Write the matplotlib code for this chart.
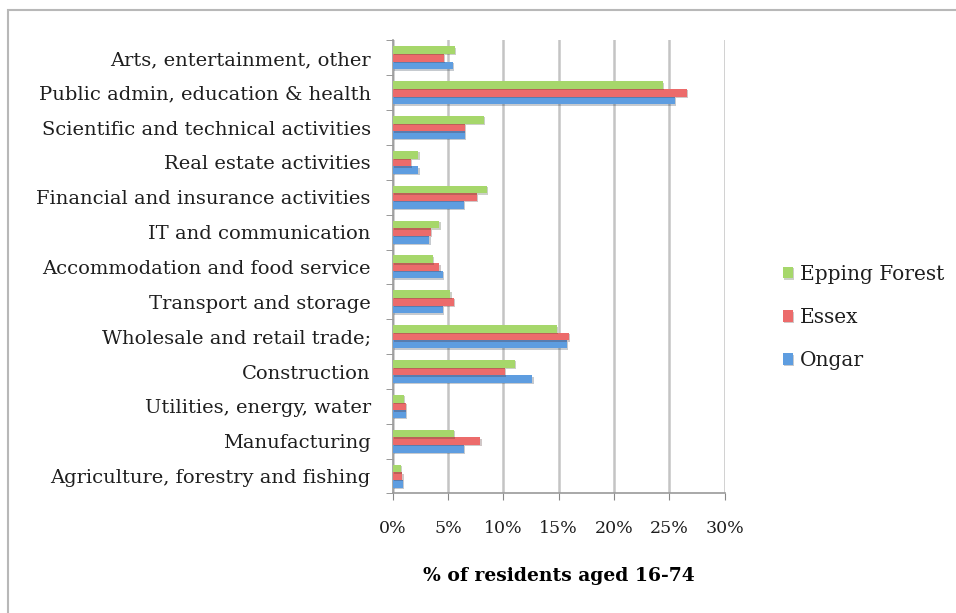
import matplotlib.pyplot as plt
import matplotlib.patheffects as pe
from matplotlib.patches import Rectangle
from matplotlib.ticker import FuncFormatter, MultipleLocator
import numpy as np

plt.rcParams['font.family'] = ['DejaVu Serif']

# Industry of employment, bottom to top as drawn
categories = [
    'Agriculture, forestry and fishing',
    'Manufacturing',
    'Utilities, energy, water',
    'Construction',
    'Wholesale and retail trade;',
    'Transport and storage',
    'Accommodation and food service',
    'IT and communication',
    'Financial and insurance activities',
    'Real estate activities',
    'Scientific and technical activities',
    'Public admin, education & health',
    'Arts, entertainment, other',
]

# % of residents aged 16-74
ongar = [0.9, 6.4, 1.15, 12.6, 15.7, 4.5, 4.5, 3.3, 6.4, 2.3, 6.5, 25.5, 5.4]
essex = [0.85, 7.9, 1.15, 10.1, 15.9, 5.5, 4.2, 3.4, 7.6, 1.6, 6.5, 26.6, 4.6]
epping_forest = [0.7, 5.5, 1.0, 11.0, 14.8, 5.2, 3.6, 4.2, 8.5, 2.3, 8.2, 24.4, 5.6]

series = [
    ('Ongar', ongar, '#5e9de0'),
    ('Essex', essex, '#ec6b6b'),
    ('Epping Forest', epping_forest, '#a6d76b'),
]

fig = plt.figure(figsize=(9.56, 6.13), dpi=100)
ax = fig.add_axes([0.411, 0.195, 0.347, 0.739])

# light frame round the whole chart
fig.patches.append(Rectangle((0.0085, -0.05), 1.2, 1.034, transform=fig.transFigure,
                             fill=False, edgecolor='#b8b8b8', linewidth=1.5))

y = np.arange(len(categories))
bar_h = 0.22
shadow = [pe.SimplePatchShadow(offset=(1, -1), alpha=0.25), pe.Normal()]
for i, (name, vals, color) in enumerate(series):
    ax.barh(y + (i - 1) * bar_h, vals, height=bar_h, color=color, label=name,
            path_effects=shadow, zorder=3)

ax.set_xlim(0, 30)
ax.set_ylim(-0.5, len(categories) - 0.5)
ax.xaxis.set_major_locator(MultipleLocator(5))
ax.xaxis.set_major_formatter(FuncFormatter(lambda v, _: f'{v:.0f}%'))
ax.set_yticks(y)
ax.set_yticklabels(categories, fontsize=14, color='#1e1e1e')
ax.set_yticks(np.arange(-0.5, len(categories)), minor=True)
ax.tick_params(axis='y', which='major', length=0, pad=16)
ax.tick_params(axis='y', which='minor', length=5, color='#888888', direction='out')
ax.tick_params(axis='x', length=5, color='#888888', labelsize=12.5, labelcolor='#1e1e1e', pad=14)

ax.grid(axis='x', color='#c4c4c4', linewidth=1.8, zorder=0)
for side in ['top', 'right']:
    ax.spines[side].set_visible(False)
for side in ['left', 'bottom']:
    ax.spines[side].set_color('#9a9a9a')
    ax.spines[side].set_linewidth(1.2)

ax.set_xlabel('% of residents aged 16-74', fontsize=13.5, fontweight='bold', labelpad=22)

handles, labels = ax.get_legend_handles_labels()
leg = fig.legend(handles[::-1], labels[::-1], loc='center left', bbox_to_anchor=(0.8, 0.482),
                 frameon=False, fontsize=14.5, handlelength=0.5, handleheight=0.5,
                 handletextpad=0.35, labelspacing=1.2)
for t in leg.get_texts():
    t.set_color('#1e1e1e')

fig.savefig('out.png', dpi=100)
